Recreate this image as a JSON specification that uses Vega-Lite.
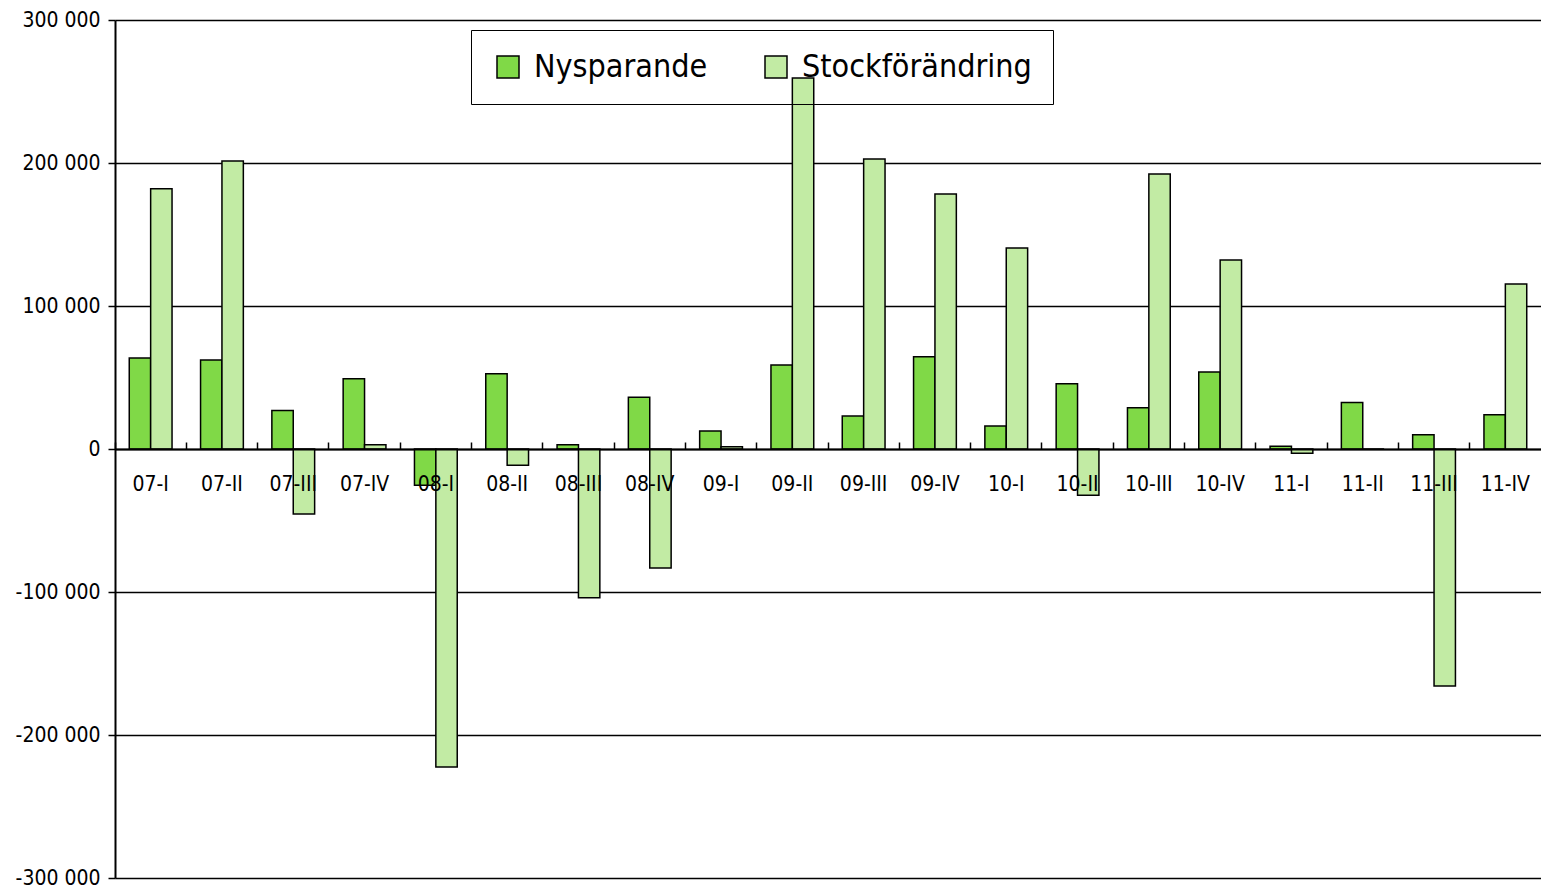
{
  "$schema": "https://vega.github.io/schema/vega-lite/v6.json",
  "autosize": {"type": "none"},
  "padding": {"left": 115, "top": 20, "right": 0, "bottom": 11},
  "width": 1426,
  "height": 858,
  "background": "white",
  "config": {
    "view": {"stroke": null},
    "font": "DejaVu Sans Condensed, Liberation Sans, sans-serif"
  },
  "data": {
    "values": [
      {"q": "07-I", "serie": "Nysparande", "value": 63600}, {"q": "07-I", "serie": "Stockförändring", "value": 182000},
      {"q": "07-II", "serie": "Nysparande", "value": 62200}, {"q": "07-II", "serie": "Stockförändring", "value": 201400},
      {"q": "07-III", "serie": "Nysparande", "value": 27000}, {"q": "07-III", "serie": "Stockförändring", "value": -45500},
      {"q": "07-IV", "serie": "Nysparande", "value": 49200}, {"q": "07-IV", "serie": "Stockförändring", "value": 3000},
      {"q": "08-I", "serie": "Nysparande", "value": -25300}, {"q": "08-I", "serie": "Stockförändring", "value": -222400},
      {"q": "08-II", "serie": "Nysparande", "value": 52700}, {"q": "08-II", "serie": "Stockförändring", "value": -11400},
      {"q": "08-III", "serie": "Nysparande", "value": 3000}, {"q": "08-III", "serie": "Stockförändring", "value": -104000},
      {"q": "08-IV", "serie": "Nysparande", "value": 36200}, {"q": "08-IV", "serie": "Stockförändring", "value": -83200},
      {"q": "09-I", "serie": "Nysparande", "value": 12600}, {"q": "09-I", "serie": "Stockförändring", "value": 1600},
      {"q": "09-II", "serie": "Nysparande", "value": 58700}, {"q": "09-II", "serie": "Stockförändring", "value": 259400},
      {"q": "09-III", "serie": "Nysparande", "value": 23000}, {"q": "09-III", "serie": "Stockförändring", "value": 202800},
      {"q": "09-IV", "serie": "Nysparande", "value": 64500}, {"q": "09-IV", "serie": "Stockförändring", "value": 178300},
      {"q": "10-I", "serie": "Nysparande", "value": 16100}, {"q": "10-I", "serie": "Stockförändring", "value": 140600},
      {"q": "10-II", "serie": "Nysparande", "value": 45700}, {"q": "10-II", "serie": "Stockförändring", "value": -32400},
      {"q": "10-III", "serie": "Nysparande", "value": 28900}, {"q": "10-III", "serie": "Stockförändring", "value": 192300},
      {"q": "10-IV", "serie": "Nysparande", "value": 53800}, {"q": "10-IV", "serie": "Stockförändring", "value": 132200},
      {"q": "11-I", "serie": "Nysparande", "value": 1900}, {"q": "11-I", "serie": "Stockförändring", "value": -3000},
      {"q": "11-II", "serie": "Nysparande", "value": 32600}, {"q": "11-II", "serie": "Stockförändring", "value": 0},
      {"q": "11-III", "serie": "Nysparande", "value": 10000}, {"q": "11-III", "serie": "Stockförändring", "value": -165700},
      {"q": "11-IV", "serie": "Nysparande", "value": 24000}, {"q": "11-IV", "serie": "Stockförändring", "value": 115400}
    ]
  },
  "resolve": {"axis": {"x": "independent"}},
  "layer": [
    {
      "mark": {"type": "bar", "stroke": "black", "strokeWidth": 1.5},
      "encoding": {
        "x": {
          "field": "q", "type": "nominal", "sort": null,
          "scale": {"paddingInner": 0.4, "paddingOuter": 0.2},
          "axis": {
            "title": null, "offset": -429, "labelAngle": 0, "zindex": 1,
            "domainColor": "black", "domainWidth": 2,
            "ticks": false,
            "labelFontSize": 21, "labelColor": "black", "labelPadding": 24,
            "grid": false
          }
        },
        "xOffset": {"field": "serie", "type": "nominal", "scale": {"paddingInner": 0, "paddingOuter": 0}},
        "y": {
          "field": "value", "type": "quantitative",
          "scale": {"domain": [-300000, 300000], "nice": false, "zero": false},
          "axis": {
            "title": null, "values": [-300000, -200000, -100000, 0, 100000, 200000, 300000],
            "labelExpr": "replace(replace(format(datum.value, ','), ',', ' '), '−', '-')",
            "grid": true, "gridColor": "black", "gridWidth": 1.5, "gridOpacity": 1,
            "domainColor": "black", "domainWidth": 2,
            "tickColor": "black", "tickWidth": 1.5, "tickSize": 7,
            "labelFontSize": 21, "labelColor": "black", "labelPadding": 8
          }
        },
        "color": {
          "field": "serie", "type": "nominal",
          "scale": {"domain": ["Nysparande", "Stockförändring"], "range": ["#80d947", "#c2eba4"]},
          "legend": {
            "title": null, "orient": "none", "legendX": 356, "legendY": 10,
            "direction": "horizontal",
            "symbolType": "square", "symbolSize": 484, "symbolStrokeColor": "black", "symbolStrokeWidth": 1.5,
            "labelFontSize": 32, "labelColor": "black", "labelOffset": 10, "labelLimit": 0,
            "columnPadding": 52, "padding": 21,
            "strokeColor": "black", "fillColor": "transparent"
          }
        }
      }
    },
    {
      "mark": {"type": "bar", "opacity": 0},
      "encoding": {
        "x": {
          "field": "q", "type": "nominal", "sort": null,
          "axis": {
            "title": null, "offset": -429, "zindex": 1,
            "domain": false, "labels": false, "grid": false,
            "ticks": true, "tickColor": "black", "tickWidth": 1.5, "tickSize": 7,
            "bandPosition": -0.3333
          }
        },
        "xOffset": {"field": "serie", "type": "nominal"},
        "y": {"field": "value", "type": "quantitative"}
      }
    }
  ]
}
